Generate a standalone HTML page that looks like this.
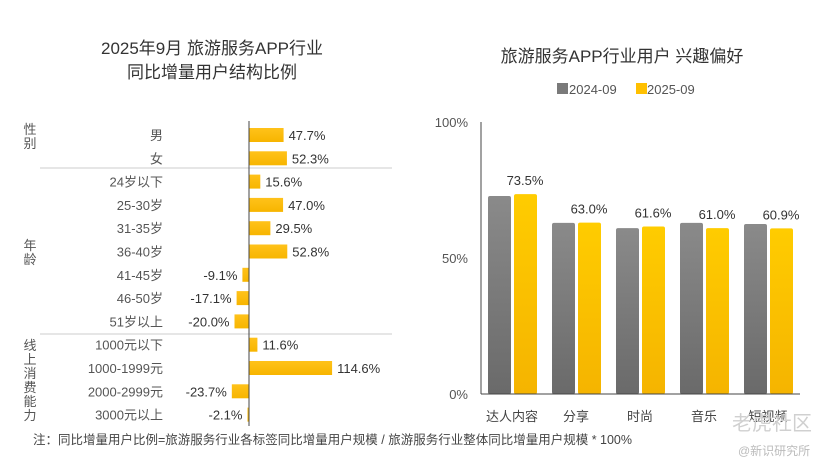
<!DOCTYPE html>
<html><head><meta charset="utf-8">
<style>
body{margin:0;background:#fff;}
svg text{font-family:"Liberation Sans","Noto Sans CJK SC",sans-serif;}
</style></head>
<body>
<svg width="829" height="470" viewBox="0 0 829 470" xmlns="http://www.w3.org/2000/svg">
<defs>
<linearGradient id="gy" x1="0" y1="0" x2="0" y2="1"><stop offset="0" stop-color="#ffc21a"/><stop offset="1" stop-color="#f7b500"/></linearGradient>
<linearGradient id="gg" x1="0" y1="0" x2="0" y2="1"><stop offset="0" stop-color="#8a8a8a"/><stop offset="1" stop-color="#6a6a6a"/></linearGradient>
<linearGradient id="gy2" x1="0" y1="0" x2="0" y2="1"><stop offset="0" stop-color="#ffcc00"/><stop offset="1" stop-color="#f5b400"/></linearGradient>
</defs>
<g fill="#333" font-size="17" text-anchor="middle">
<text x="212" y="54">2025年9月 旅游服务APP行业</text>
<text x="212" y="78">同比增量用户结构比例</text>
</g>
<text x="622" y="62" font-size="17" fill="#333" text-anchor="middle">旅游服务APP行业用户 兴趣偏好</text>
<g font-size="13" fill="#555">
<rect x="557" y="83" width="11" height="11" fill="#7a7a7a"/>
<text x="569" y="94">2024-09</text>
<rect x="636" y="83" width="11" height="11" fill="#ffc000"/>
<text x="647" y="94">2025-09</text>
</g>
<g id="left"></g>
<g id="right"></g>
<text x="33" y="444" font-size="12.5" fill="#444">注：同比增量用户比例=旅游服务行业各标签同比增量用户规模 / 旅游服务行业整体同比增量用户规模 * 100%</text>
<text x="732" y="430" font-size="20" fill="#d0d0d0">老虎社区</text>
<text x="738" y="455" font-size="12" fill="#bbb">@新识研究所</text>
</svg>
<script>
const leftCategories=["男","女","24岁以下","25-30岁","31-35岁","36-40岁","41-45岁","46-50岁","51岁以上","1000元以下","1000-1999元","2000-2999元","3000元以上"];
const leftValues=[47.7,52.3,15.6,47.0,29.5,52.8,-9.1,-17.1,-20.0,11.6,114.6,-23.7,-2.1];
const groupLabels=["性别","年龄","线上消费能力"];
const rightCategories=["达人内容","分享","时尚","音乐","短视频"];
const series2024=[72.8,62.9,61.0,62.9,62.5];
const series2025=[73.5,63.0,61.6,61.0,60.9];
const yTicks=[0,50,100];
const NS="http://www.w3.org/2000/svg";
function mk(p,t,a){const e=document.createElementNS(NS,t);for(const k in a)e.setAttribute(k,a[k]);p.appendChild(e);return e;}
// left chart
const L=document.getElementById('left');
const x0=249, sx=0.725;
const yRow=i=>135+i*23.3;
const xL=v=>x0+v*sx;
leftCategories.forEach((c,i)=>{
 const v=leftValues[i], y=yRow(i);
 const r=mk(L,'rect',{x:Math.min(xL(0),xL(v)),y:y-7,width:Math.max(1,Math.abs(xL(v)-xL(0))),height:14,fill:'url(#gy)'});
 
 
 const t=mk(L,'text',{x:163,y:y+5,'font-size':13,fill:'#555','text-anchor':'end'});t.textContent=c;
 
 
 const vl=mk(L,'text',{x:v>=0?xL(v)+5:xL(v)-5,y:y+5,'font-size':13,fill:'#333','text-anchor':v>=0?'start':'end'});vl.textContent=v.toFixed(1)+'%';
 
 
});
[168,334].forEach(y=>{const l=mk(L,'line',{x1:40,x2:392,y1:y,y2:y,stroke:'#ccc','stroke-width':1});
 
 });
const ax=mk(L,'line',{x1:x0,x2:x0,y1:121,y2:426,stroke:'#444','stroke-width':1});


const gpos=[[30,134],[30,250],[30,350]];
groupLabels.forEach((g,gi)=>{
 const t=mk(L,'text',{x:gpos[gi][0],y:gpos[gi][1],'font-size':13,fill:'#555','text-anchor':'middle'});
 
 
 [...g].forEach((ch,k)=>{const s=mk(t,'tspan',{x:gpos[gi][0],dy:k?14:0});s.textContent=ch;});
});
// right chart
const R=document.getElementById('right');
const baseY=394, topY=122;
const yR=v=>baseY-(baseY-topY)*v/100;
const gx=i=>488+i*64;
yTicks.forEach(v=>{const t=mk(R,'text',{x:468,y:yR(v)+5,'font-size':13,fill:'#555','text-anchor':'end'});t.textContent=v+'%';
 
 });
rightCategories.forEach((c,i)=>{
 const g=mk(R,'rect',{x:gx(i),y:yR(series2024[i]),width:23,height:baseY-yR(series2024[i]),fill:'url(#gg)',rx:2});
 
 
 const yb=mk(R,'rect',{x:gx(i)+26,y:yR(series2025[i]),width:23,height:baseY-yR(series2025[i]),fill:'url(#gy2)',rx:2});
 
 
 const vl=mk(R,'text',{x:gx(i)+37,y:yR(series2025[i])-9,'font-size':13,fill:'#333','text-anchor':'middle'});vl.textContent=series2025[i].toFixed(1)+'%';
 
 
 const cl=mk(R,'text',{x:gx(i)+24,y:421,'font-size':13,fill:'#444','text-anchor':'middle'});cl.textContent=c;
 
 
});
const ya=mk(R,'line',{x1:481,x2:481,y1:122,y2:394,stroke:'#444'});


const xa=mk(R,'line',{x1:481,x2:800,y1:394,y2:394,stroke:'#444'});


</script>
</body></html>
